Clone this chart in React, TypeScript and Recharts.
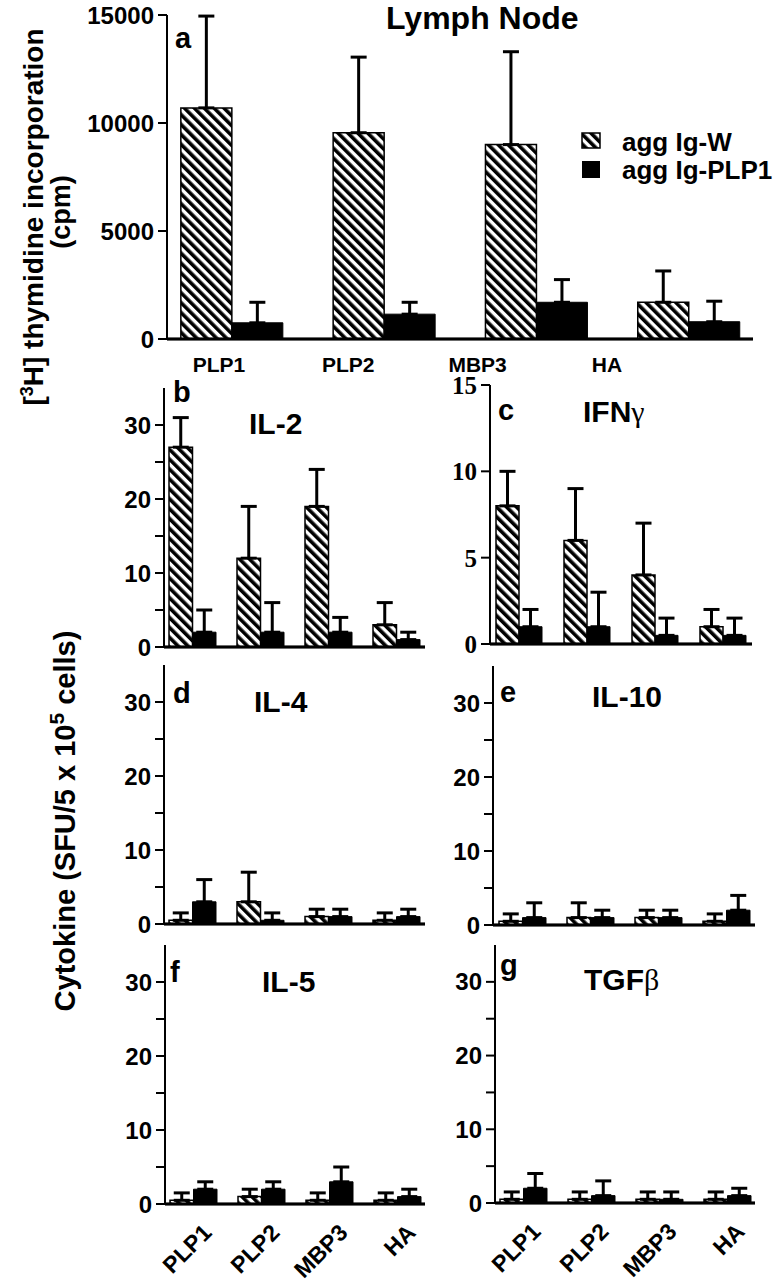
import { BarChart, Bar, XAxis, YAxis, ErrorBar, ReferenceLine } from "recharts";

const antigens = ["PLP1", "PLP2", "MBP3", "HA"];

// a: lymph node proliferation (cpm)
const lnW = [10700, 9550, 9000, 1700];
const lnWErr = [4250, 3500, 4300, 1450];
const lnP = [750, 1150, 1700, 800];
const lnPErr = [950, 550, 1050, 950];

// b-g: cytokine spots (SFU / 5x10^5 cells)
const il2W = [27, 12, 19, 3];
const il2WErr = [4, 7, 5, 3];
const il2P = [2, 2, 2, 1];
const il2PErr = [3, 4, 2, 1];

const ifnW = [8, 6, 4, 1];
const ifnWErr = [2, 3, 3, 1];
const ifnP = [1, 1, 0.5, 0.5];
const ifnPErr = [1, 2, 1, 1];

const il4W = [0.5, 3, 1, 0.5];
const il4WErr = [1, 4, 1, 1];
const il4P = [3, 0.5, 1, 1];
const il4PErr = [3, 1, 1, 1];

const il10W = [0.5, 1, 1, 0.5];
const il10WErr = [1, 2, 1, 1];
const il10P = [1, 1, 1, 2];
const il10PErr = [2, 1, 1, 2];

const il5W = [0.5, 1, 0.5, 0.5];
const il5WErr = [1, 1, 1, 1];
const il5P = [2, 2, 3, 1];
const il5PErr = [1, 1, 2, 1];

const tgfW = [0.5, 0.5, 0.5, 0.5];
const tgfWErr = [1, 1, 1, 1];
const tgfP = [2, 1, 0.5, 1];
const tgfPErr = [2, 2, 1, 1];

const lnTicks = [0, 5000, 10000, 15000];
const cytoTicks = [0, 5, 10, 15, 20, 25, 30];
const ifnTicks = [0, 5, 10, 15];
const catTicks = antigens.map((_, i) => i);

function makeRows(w: number[], wErr: number[], p: number[], pErr: number[]) {
  return antigens.map((name, i) => ({
    name,
    pos: i,
    w: w[i],
    wErr: [0, wErr[i]],
    p: p[i],
    pErr: [0, pErr[i]],
  }));
}

const SANS = "'Liberation Sans', Arial, Helvetica, sans-serif";
const SERIF = "'Liberation Serif', 'Times New Roman', serif";

type Box = { x0: number; x1: number; y0: number; y1: number };

// plot areas of the seven panels
const boxA: Box = { x0: 167, x1: 753, y0: 15, y1: 339 };
const boxB: Box = { x0: 164, x1: 425, y0: 388, y1: 647 };
const boxC: Box = { x0: 490, x1: 752, y0: 385, y1: 644 };
const boxD: Box = { x0: 164, x1: 425, y0: 665, y1: 924 };
const boxE: Box = { x0: 493, x1: 755, y0: 666, y1: 925 };
const boxF: Box = { x0: 165, x1: 425, y0: 945, y1: 1204 };
const boxG: Box = { x0: 495, x1: 755, y0: 945, y1: 1203 };
const allBoxes = [boxA, boxB, boxC, boxD, boxE, boxF, boxG];

// domain of a numeric category axis so groups sit `first` px in and `step` px apart
function slotDomain(width: number, first: number, step: number): [number, number] {
  const d0 = -first / step;
  return [d0, d0 + width / step];
}

function RotTick(props: any) {
  const { x, y, payload } = props;
  return (
    <g transform={`translate(${x},${y})`}>
      <text
        x={19}
        y={30}
        textAnchor="end"
        transform="rotate(-45 19 30)"
        fontFamily={SANS}
        fontWeight="bold"
        fontSize={23}
        fill="#000"
      >
        {antigens[payload.value]}
      </text>
    </g>
  );
}

function FlatTick(props: any) {
  const { x, y, payload } = props;
  return (
    <text x={x} y={y + 32} textAnchor="middle" fontFamily={SANS} fontWeight="bold" fontSize={21} fill="#000">
      {antigens[payload.value]}
    </text>
  );
}

function Panel(props: {
  box: Box;
  rows: any[];
  domain: [number, number];
  ticks: number[];
  majorOnly?: boolean;
  serif?: boolean;
  barSize: number;
  first: number;
  step: number;
  mode: "none" | "flat" | "rot";
}) {
  const { box, rows, domain, ticks, majorOnly, serif, barSize, first, step, mode } = props;
  const L = 110;
  const T = 12;
  const R = 30;
  const B = 80;
  const pw = box.x1 - box.x0;
  const w = pw + L + R;
  const h = box.y1 - box.y0 + T + B;
  const mainH = mode === "rot" ? 60 : 1;
  const xh = mainH + (mode === "flat" ? 39 : 0);
  return (
    <div style={{ position: "absolute", left: box.x0 - L, top: box.y0 - T }}>
      <BarChart
        width={w}
        height={h}
        data={rows}
        margin={{ top: T, right: R, left: 0, bottom: B - xh }}
        barGap={0}
      >
        <XAxis
          dataKey="pos"
          type="number"
          domain={slotDomain(pw, first, step)}
          allowDataOverflow
          ticks={catTicks}
          axisLine={{ stroke: "#000", strokeWidth: 2.5 }}
          tickLine={false}
          tickSize={0}
          tickMargin={0}
          height={mainH}
          tick={mode === "rot" ? <RotTick /> : false}
        />
        {mode === "flat" && (
          <XAxis
            xAxisId="lbl"
            dataKey="pos"
            type="number"
            domain={slotDomain(pw, 52, 129.3)}
            allowDataOverflow
            ticks={catTicks}
            axisLine={false}
            tickLine={false}
            tickSize={0}
            tickMargin={0}
            height={39}
            tick={<FlatTick />}
          />
        )}
        <YAxis
          width={L}
          domain={domain}
          ticks={ticks}
          interval={0}
          allowDataOverflow
          axisLine={{ stroke: "#000", strokeWidth: 2 }}
          tickLine={{ stroke: "#000", strokeWidth: 2 }}
          tickSize={9}
          tickMargin={4}
          tickFormatter={(v: number) => (majorOnly && v % 10 !== 0 ? "" : String(v))}
          tick={{
            fill: "#000",
            fontFamily: serif ? SERIF : SANS,
            fontWeight: "bold",
            fontSize: serif ? 25 : 24,
          }}
        />
        <ReferenceLine y={0} stroke="#000" strokeWidth={2.5} ifOverflow="visible" />
        <Bar
          dataKey="w"
          fill="url(#hatch)"
          stroke="#000"
          strokeWidth={1.5}
          barSize={barSize}
          isAnimationActive={false}
        >
          <ErrorBar dataKey="wErr" width={8} strokeWidth={3} stroke="#000" direction="y" isAnimationActive={false} />
        </Bar>
        <Bar dataKey="p" fill="#000" stroke="#000" strokeWidth={1} barSize={barSize} isAnimationActive={false}>
          <ErrorBar dataKey="pErr" width={8} strokeWidth={3} stroke="#000" direction="y" isAnimationActive={false} />
        </Bar>
      </BarChart>
    </div>
  );
}

const titleStyle = { fontFamily: SANS, fontWeight: "bold" as const, fill: "#000" };

export default function App() {
  return (
    <div style={{ position: "absolute", left: 0, top: 0, width: 773, height: 1280, background: "#fff" }}>
      <svg width={0} height={0} style={{ position: "absolute" }}>
        <defs>
          <pattern id="hatch" patternUnits="userSpaceOnUse" width={7} height={7} patternTransform="rotate(-45)">
            <rect width={7} height={7} fill="#fff" />
            <rect x={0} y={0} width={3.6} height={7} fill="#000" />
          </pattern>
        </defs>
      </svg>

      <Panel
        box={boxA}
        rows={makeRows(lnW, lnWErr, lnP, lnPErr)}
        domain={[0, 15000]}
        ticks={lnTicks}
        barSize={51}
        first={65}
        step={152.3}
        mode="flat"
      />
      <Panel
        box={boxB}
        rows={makeRows(il2W, il2WErr, il2P, il2PErr)}
        domain={[0, 35]}
        ticks={cytoTicks}
        majorOnly
        barSize={23.5}
        first={29}
        step={68}
        mode="none"
      />
      <Panel
        box={boxC}
        rows={makeRows(ifnW, ifnWErr, ifnP, ifnPErr)}
        domain={[0, 15]}
        ticks={ifnTicks}
        serif
        barSize={23}
        first={29}
        step={68}
        mode="none"
      />
      <Panel
        box={boxD}
        rows={makeRows(il4W, il4WErr, il4P, il4PErr)}
        domain={[0, 35]}
        ticks={cytoTicks}
        majorOnly
        barSize={23.5}
        first={29}
        step={68}
        mode="none"
      />
      <Panel
        box={boxE}
        rows={makeRows(il10W, il10WErr, il10P, il10PErr)}
        domain={[0, 35]}
        ticks={cytoTicks}
        majorOnly
        barSize={23.5}
        first={29}
        step={68}
        mode="none"
      />
      <Panel
        box={boxF}
        rows={makeRows(il5W, il5WErr, il5P, il5PErr)}
        domain={[0, 35]}
        ticks={cytoTicks}
        majorOnly
        barSize={23.5}
        first={29}
        step={68}
        mode="rot"
      />
      <Panel
        box={boxG}
        rows={makeRows(tgfW, tgfWErr, tgfP, tgfPErr)}
        domain={[0, 35]}
        ticks={cytoTicks}
        majorOnly
        barSize={23.5}
        first={28}
        step={68}
        mode="rot"
      />

      <svg
        width={773}
        height={1280}
        style={{ position: "absolute", left: 0, top: 0, pointerEvents: "none" }}
      >
        {/* baselines of every panel */}
        {allBoxes.map((b, i) => (
          <line key={i} x1={b.x0} x2={b.x1} y1={b.y1} y2={b.y1} stroke="#000" strokeWidth={2.5} />
        ))}

        {/* axis titles */}
        <text transform="translate(43,217) rotate(-90)" textAnchor="middle" fontSize={28} {...titleStyle}>
          <tspan>[</tspan>
          <tspan dy={-10} fontSize={18}>3</tspan>
          <tspan dy={10}>H] thymidine incorporation</tspan>
        </text>
        <text transform="translate(70,212) rotate(-90)" textAnchor="middle" fontSize={27} {...titleStyle}>
          (cpm)
        </text>
        <text transform="translate(75,821) rotate(-90)" textAnchor="middle" fontSize={29} {...titleStyle}>
          <tspan>Cytokine (SFU/5 x 10</tspan>
          <tspan dy={-11} fontSize={21}>5</tspan>
          <tspan dy={11}> cells)</tspan>
        </text>

        {/* panel a */}
        <text x={175} y={48} fontSize={29} {...titleStyle}>a</text>
        <text x={386} y={29} fontSize={32} {...titleStyle}>Lymph Node</text>
        <rect x={582} y={133} width={18} height={15} fill="url(#hatch)" stroke="#000" strokeWidth={1.5} />
        <rect x={582} y={161} width={18} height={17} fill="#000" />
        <text x={622} y={151} fontSize={26} {...titleStyle}>agg Ig-W</text>
        <text x={622} y={179} fontSize={26} {...titleStyle}>agg Ig-PLP1</text>

        {/* cytokine panels */}
        <text x={173} y={402} fontSize={29} {...titleStyle}>b</text>
        <text x={249} y={434} fontSize={30} {...titleStyle}>IL-2</text>
        <text x={498} y={420} fontSize={29} {...titleStyle}>c</text>
        <text x={583} y={422} fontSize={30} {...titleStyle}>
          IFN<tspan fontFamily={SERIF} fontWeight="normal">γ</tspan>
        </text>
        <text x={173} y={703} fontSize={29} {...titleStyle}>d</text>
        <text x={254} y={712} fontSize={30} {...titleStyle}>IL-4</text>
        <text x={500} y={702} fontSize={29} {...titleStyle}>e</text>
        <text x={592} y={707} fontSize={30} {...titleStyle}>IL-10</text>
        <text x={170} y={982} fontSize={29} {...titleStyle}>f</text>
        <text x={262} y={992} fontSize={30} {...titleStyle}>IL-5</text>
        <text x={500} y={975} fontSize={29} {...titleStyle}>g</text>
        <text x={584} y={990} fontSize={30} {...titleStyle}>
          TGF<tspan fontFamily={SERIF} fontWeight="normal">β</tspan>
        </text>
      </svg>
    </div>
  );
}
